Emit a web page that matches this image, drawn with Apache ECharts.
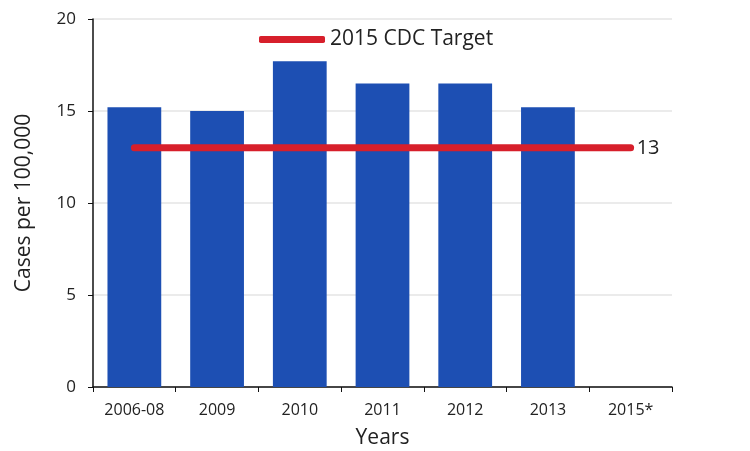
<!DOCTYPE html>
<html><head><meta charset="utf-8">
<script src="https://cdn.jsdelivr.net/npm/echarts@6/dist/echarts.min.js"></script>
<style>html,body{margin:0;padding:0;background:#fff}#c{width:750px;height:451px}</style>
</head><body><div id="c"></div>
<script>
const categories = ['2006-08','2009','2010','2011','2012','2013','2015*'];
const caseRates = [15.2, 15.0, 17.7, 16.5, 16.5, 15.2, null];
const cdcTarget = [13, 13, 13, 13, 13, 13, 13];
const yTicks = [0, 5, 10, 15, 20];

const chart = echarts.init(document.getElementById('c'));
const font = '"Open Sans", "Noto Sans", sans-serif';
chart.setOption({
  backgroundColor: '#ffffff',
  animation: false,
  textStyle: { fontFamily: font },
  grid: { left: 93, right: 78, top: 19, bottom: 64, outerBoundsMode: 'none', containLabel: false },
  legend: {
    left: 254, top: 24, itemWidth: 66, itemHeight: 7, itemGap: 8,
    data: [{ name: '2015 CDC Target', icon: 'roundRect' }],
    textStyle: { fontSize: 21, color: '#222', fontFamily: font }
  },
  xAxis: {
    type: 'category', data: categories,
    name: 'Years', nameLocation: 'middle', nameGap: 41,
    nameTextStyle: { fontSize: 21, color: '#222', fontFamily: font },
    axisLine: { lineStyle: { color: '#111', width: 1.5 } },
    axisTick: { show: true, length: 5, lineStyle: { color: '#111' } },
    axisLabel: { fontSize: 16, color: '#222', margin: 15, fontFamily: font }
  },
  yAxis: {
    type: 'value', min: yTicks[0], max: yTicks[yTicks.length - 1], interval: 5,
    name: 'Cases per 100,000', nameLocation: 'middle', nameGap: 58,
    nameTextStyle: { fontSize: 21, color: '#222', fontFamily: font },
    axisLine: { show: true, lineStyle: { color: '#111', width: 1.5 } },
    axisTick: { show: true, length: 5, lineStyle: { color: '#111' } },
    axisLabel: { fontSize: 17, color: '#222', margin: 17, fontFamily: font },
    splitLine: { show: true, lineStyle: { color: '#e4e4e4', width: 1.5 } }
  },
  series: [
    {
      name: 'Cases', type: 'bar', data: caseRates, barWidth: '65%',
      itemStyle: { color: '#1d4fb3' }, z: 2
    },
    {
      name: '2015 CDC Target', type: 'line', data: cdcTarget,
      symbol: 'none', z: 3,
      lineStyle: { color: '#d71f2b', width: 7, cap: 'round' },
      itemStyle: { color: '#d71f2b' },
      endLabel: { show: true, formatter: '{c}', fontSize: 20, color: '#222', distance: 6, fontFamily: font }
    }
  ]
});
</script></body></html>
